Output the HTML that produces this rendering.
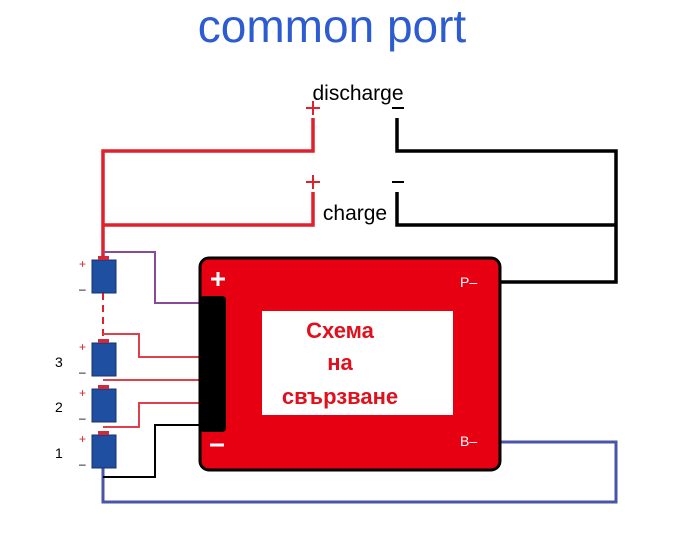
<!DOCTYPE html>
<html><head><meta charset="utf-8"><style>
body{margin:0;background:#fff;width:700px;height:546px;overflow:hidden}
svg{display:block}
</style></head><body>
<svg width="700" height="546" viewBox="0 0 700 546" xmlns="http://www.w3.org/2000/svg">
<text x="332" y="42" font-family="Liberation Sans, sans-serif" font-size="46" fill="#2d5bd0" text-anchor="middle">common port</text>
<text x="358" y="100" font-family="Liberation Sans, sans-serif" font-size="21" fill="#000" text-anchor="middle">discharge</text>
<text x="355" y="220" font-family="Liberation Sans, sans-serif" font-size="21" fill="#000" text-anchor="middle">charge</text>
<g stroke="#e0202c" stroke-width="2" fill="none">
<path d="M306 108h14M313 101v14"/><path d="M306 182h14M313 175v14"/>
</g>
<g stroke="#000" stroke-width="2"><path d="M392 108h12M392 182h12"/></g>
<g stroke="#e0202c" stroke-width="3.5" fill="none">
<path d="M313 118V151H103V260"/><path d="M313 192V225H103"/>
</g>
<g stroke="#000" stroke-width="3.5" fill="none">
<path d="M397 118V151H616V282H497"/><path d="M397 192V225H616"/>
</g>
<path d="M103 468V502H616V442H497" stroke="#4a55a8" stroke-width="3" fill="none"/>
<path d="M103 252H155V303H200" stroke="#8a4a9a" stroke-width="2" fill="none"/>
<path d="M103 293V343" stroke="#e0202c" stroke-width="2" stroke-dasharray="7,5"/>
<g stroke="#e0404a" stroke-width="2" fill="none">
<path d="M103 334H139V357H200"/><path d="M103 380H200"/><path d="M103 427H139V403H200"/>
</g>
<path d="M103 477H155V425H200" stroke="#000" stroke-width="2" fill="none"/>
<rect x="200" y="258" width="300" height="212" rx="9" fill="#e60012" stroke="#000" stroke-width="3"/>
<rect x="200" y="296" width="26" height="136" rx="4" fill="#000"/>
<rect x="262" y="311" width="191" height="104" fill="#fff"/>
<g font-family="Liberation Sans, DejaVu Sans, sans-serif" font-weight="bold" font-size="22" fill="#e0101c" text-anchor="middle">
<text x="340" y="338">Схема</text><text x="340" y="370">на</text><text x="340" y="404">свързване</text>
</g>
<g stroke="#fff" stroke-width="3"><path d="M211 279h14M218 272v14M210 445h14"/></g>
<g font-family="Liberation Sans, sans-serif" font-size="14" fill="#fff"><text x="460" y="287">P–</text><text x="460" y="446">B–</text></g>
<g fill="#1f4fa0" stroke="#17326e" stroke-width="1">
<rect x="92" y="260" width="24" height="33"/><rect x="92" y="343" width="24" height="33"/>
<rect x="92" y="389" width="24" height="33"/><rect x="92" y="435" width="24" height="33"/>
</g>
<g fill="#d02a3a"><rect x="98" y="256" width="11" height="4"/><rect x="98" y="339" width="11" height="4"/><rect x="98" y="385" width="11" height="4"/><rect x="98" y="431" width="11" height="4"/></g>
<g font-family="Liberation Sans, sans-serif" font-size="12">
<g fill="#e0202c"><text x="79" y="268">+</text><text x="79" y="351">+</text><text x="79" y="397">+</text><text x="79" y="443">+</text></g>
<g fill="#000"><text x="79" y="293">–</text><text x="79" y="376">–</text><text x="79" y="422">–</text><text x="79" y="468">–</text></g>
<g font-size="14"><text x="55" y="367">3</text><text x="55" y="412">2</text><text x="55" y="458">1</text></g>
</g>
</svg>
</body></html>
